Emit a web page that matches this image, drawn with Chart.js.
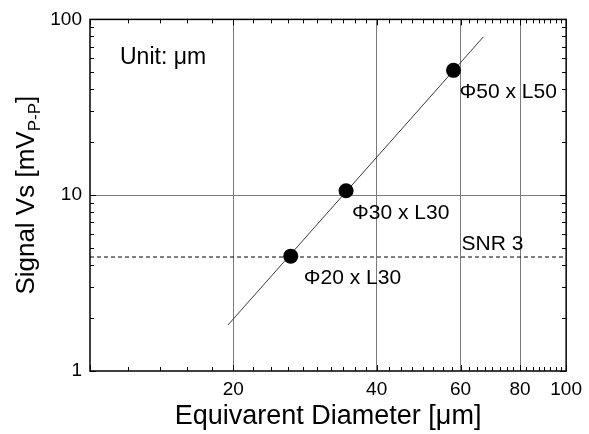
<!DOCTYPE html>
<html>
<head>
<meta charset="utf-8">
<script src="https://cdn.jsdelivr.net/npm/chart.js@4.4.1/dist/chart.umd.min.js"></script>
<style>
  html, body { margin: 0; padding: 0; background: #fff; }
  #wrap { width: 589px; height: 434px; }
</style>
</head>
<body>
<div id="wrap"><canvas id="chart"></canvas></div>
<script>
// measured samples: equivalent diameter [um] vs signal [mV p-p]
const sampleNames = ['Φ20 x L30', 'Φ30 x L30', 'Φ50 x L50'];
const diameters = [26.4, 34.5, 58.0];
const signals = [4.5, 10.6, 51.3];

// fitted line, end points
const fitX = [19.5, 67];
const fitY = [1.83, 79.5];

// SNR 3 level
const snrLevel = 4.45;
const snrSpan = [10, 100];

// axis ticks
const xMajor = [10, 20, 40, 60, 80, 100];
const xGrid = [20, 40, 60, 80];
const xMinor = [12, 14, 16, 18, 22, 24, 26, 28, 30, 32, 34, 36, 38,
  42.5, 45, 47.5, 50, 52.5, 55, 57.5, 62.5, 65, 67.5, 70, 72.5, 75, 77.5,
  82.5, 85, 87.5, 90, 92.5, 95, 97.5];
const yMajor = [1, 10, 100];
const yGrid = [10];
const yMinor = [2, 3, 4, 5, 6, 7, 8, 9, 20, 30, 40, 50, 60, 70, 80, 90];

const FONT = "'Liberation Sans', Arial, sans-serif";
const GRID = '#7a7a7a';

// frame, inward minor ticks, annotations and axis titles
const decorations = {
  id: 'decorations',
  afterDatasetsDraw(chart) {
    const { ctx, chartArea: a, scales } = chart;
    ctx.save();
    ctx.strokeStyle = '#000';
    ctx.lineWidth = 1;
    ctx.beginPath();
    xMinor.concat(xMajor).forEach(v => {
      const px = Math.round(scales.x.getPixelForValue(v)) + 0.5;
      const len = xMajor.includes(v) ? 6 : 4;
      ctx.moveTo(px, a.bottom); ctx.lineTo(px, a.bottom - len);
      ctx.moveTo(px, a.top); ctx.lineTo(px, a.top + len);
    });
    yMinor.concat(yMajor).forEach(v => {
      const py = Math.round(scales.y.getPixelForValue(v)) + 0.5;
      const len = yMajor.includes(v) ? 6 : 4;
      ctx.moveTo(a.left, py); ctx.lineTo(a.left + len, py);
      ctx.moveTo(a.right, py); ctx.lineTo(a.right - len, py);
    });
    ctx.stroke();
    ctx.lineWidth = 1.5;
    ctx.strokeRect(a.left, a.top, a.right - a.left, a.bottom - a.top);
    ctx.restore();
  },
  afterDraw(chart) {
    const { ctx, chartArea: a, scales } = chart;
    const x = scales.x, y = scales.y;
    ctx.save();
    ctx.fillStyle = '#000';
    ctx.textBaseline = 'middle';
    ctx.textAlign = 'left';

    // sample labels, offset from each point
    const offsets = [[13, 22], [6, 22], [6, 22]];
    ctx.font = '21px ' + FONT;
    sampleNames.forEach((name, i) => {
      const px = x.getPixelForValue(diameters[i]) + offsets[i][0];
      const py = y.getPixelForValue(signals[i]) + offsets[i][1];
      ctx.fillText(name, px, py);
    });
    ctx.fillText('SNR 3', x.getPixelForValue(60) + 1, y.getPixelForValue(snrLevel) - 13);

    ctx.font = '23px ' + FONT;
    ctx.fillText('Unit: μm', a.left + 30, a.top + 38);

    // x title
    ctx.font = '27px ' + FONT;
    ctx.textAlign = 'center';
    ctx.textBaseline = 'alphabetic';
    ctx.fillText('Equivarent Diameter [μm]', (a.left + a.right) / 2, 424);

    // y title with subscript
    ctx.translate(25, (a.top + a.bottom) / 2);
    ctx.rotate(-Math.PI / 2);
    ctx.textAlign = 'left';
    const main = 'Signal Vs [mV', sub = 'P-P', close = ']';
    ctx.font = '26px ' + FONT;
    const w1 = ctx.measureText(main).width;
    const w3 = ctx.measureText(close).width;
    ctx.font = '17px ' + FONT;
    const w2 = ctx.measureText(sub).width;
    let sx = -(w1 + w2 + w3) / 2;
    ctx.font = '26px ' + FONT;
    ctx.fillText(main, sx, 9);
    sx += w1;
    ctx.font = '17px ' + FONT;
    ctx.fillText(sub, sx, 15);
    sx += w2;
    ctx.font = '26px ' + FONT;
    ctx.fillText(close, sx, 9);
    ctx.restore();
  }
};

const points = diameters.map((d, i) => ({ x: d, y: signals[i] }));
const fitLine = fitX.map((v, i) => ({ x: v, y: fitY[i] }));
const snrLine = snrSpan.map(v => ({ x: v, y: snrLevel }));

new Chart(document.getElementById('chart'), {
  type: 'scatter',
  data: {
    datasets: [
      {
        label: 'samples',
        data: points,
        pointRadius: 7.5,
        pointHoverRadius: 7.5,
        backgroundColor: '#000',
        borderWidth: 0,
        order: 0
      },
      {
        label: 'fit',
        data: fitLine,
        showLine: true,
        pointRadius: 0,
        borderColor: '#3a3a3a',
        borderWidth: 1,
        order: 1
      },
      {
        label: 'SNR 3',
        data: snrLine,
        showLine: true,
        pointRadius: 0,
        borderColor: '#000',
        borderWidth: 1,
        borderDash: [4, 3],
        order: 2
      }
    ]
  },
  options: {
    responsive: true,
    maintainAspectRatio: false,
    animation: false,
    layout: { padding: { top: 15, right: 19, left: 0, bottom: 0 } },
    plugins: {
      legend: { display: false },
      tooltip: { enabled: false }
    },
    scales: {
      x: {
        type: 'logarithmic',
        min: 10,
        max: 100,
        afterBuildTicks: axis => { axis.ticks = xMajor.map(v => ({ value: v })); },
        afterFit: axis => { axis.height = 63; },
        ticks: {
          callback: v => (v === 10 ? '' : String(v)),
          font: { family: FONT, size: 19 },
          color: '#000',
          padding: 7,
          maxRotation: 0,
          autoSkip: false
        },
        grid: {
          color: c => (c.tick && xGrid.includes(c.tick.value) ? GRID : 'rgba(0,0,0,0)'),
          lineWidth: 1,
          drawTicks: false
        },
        border: { display: false }
      },
      y: {
        type: 'logarithmic',
        min: 1,
        max: 100,
        afterBuildTicks: axis => { axis.ticks = yMajor.map(v => ({ value: v })); },
        afterFit: axis => { axis.width = 90; },
        ticks: {
          callback: v => String(v),
          font: { family: FONT, size: 19 },
          color: '#000',
          padding: 8,
          autoSkip: false
        },
        grid: {
          color: c => (c.tick && yGrid.includes(c.tick.value) ? GRID : 'rgba(0,0,0,0)'),
          lineWidth: 1,
          drawTicks: false
        },
        border: { display: false }
      }
    }
  },
  plugins: [decorations]
});
</script>
</body>
</html>
